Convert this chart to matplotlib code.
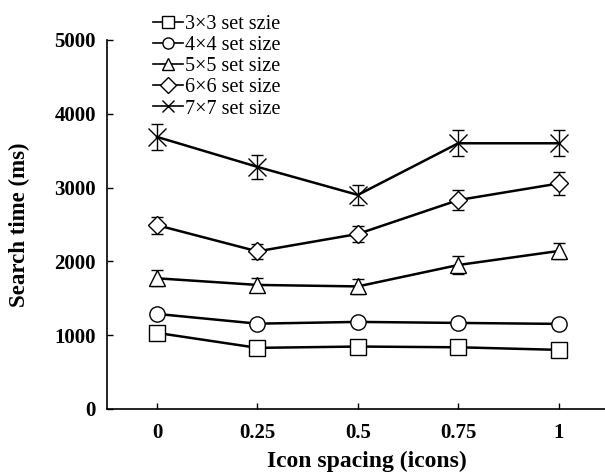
import matplotlib
matplotlib.use("Agg")
import matplotlib.pyplot as plt

plt.rcParams['font.family'] = ['Liberation Serif', 'DejaVu Serif']

spacing = [0, 0.25, 0.5, 0.75, 1]
tick_labels = ["0", "0.25", "0.5", "0.75", "1"]

labels = ["3×3 set szie", "4×4 set size", "5×5 set size", "6×6 set size", "7×7 set size"]
markers = ["s", "o", "^", "D", "x"]

# mean search times (ms)
t3 = [1030, 827, 845, 835, 800]
t4 = [1287, 1155, 1179, 1165, 1152]
t5 = [1770, 1680, 1660, 1950, 2140]
t6 = [2490, 2135, 2371, 2830, 3055]
t7 = [3686, 3280, 2900, 3600, 3600]

# error bars (ms)
e3 = [40, 40, 40, 40, 40]
e4 = [40, 40, 40, 40, 40]
e5 = [110, 100, 100, 125, 110]
e6 = [115, 100, 110, 130, 150]
e7 = [175, 165, 130, 175, 175]

means = [t3, t4, t5, t6, t7]
errs = [e3, e4, e5, e6, e7]

fig = plt.figure(figsize=(6.05, 4.76), dpi=100)
ax = fig.add_axes([0.177, 0.141, 0.823, 0.775])

for m, e, mk, lab in zip(means, errs, markers, labels):
    ms = 13 if mk == "x" else (9 if mk == "D" else 11)
    ax.errorbar(spacing, m, yerr=e, color="black", lw=1.8, marker=mk,
                markersize=ms, markerfacecolor="white", markeredgecolor="black",
                markeredgewidth=1.0, ecolor="black", elinewidth=1.0,
                capsize=4, capthick=1.0, label=lab)

ax.set_xlim(-0.1245, 1.1155)
ax.set_ylim(0, 5000)
ax.set_xticks(spacing)
ax.set_xticklabels(tick_labels)
ax.set_yticks([0, 1000, 2000, 3000, 4000, 5000])
ax.tick_params(direction="in", length=4, width=1, labelsize=15)
ax.tick_params(axis="x", pad=10)
ax.tick_params(axis="y", pad=8)
for t in ax.get_xticklabels() + ax.get_yticklabels():
    t.set_fontweight("bold")
ax.spines["top"].set_visible(False)
ax.spines["right"].set_visible(False)
for s in ["left", "bottom"]:
    ax.spines[s].set_linewidth(1.2)

ax.set_xlabel("Icon spacing (icons)", fontsize=17, fontweight="bold")
ax.set_ylabel("Search time (ms)", fontsize=16.5, fontweight="bold")
ax.xaxis.set_label_coords(0.522, -0.113)
ax.yaxis.set_label_coords(-0.155, 0.5)

handles, labs = ax.get_legend_handles_labels()
handles = [h[0] for h in handles]
leg = ax.legend(handles, labs, loc="upper left", frameon=False, fontsize=14.5,
                handlelength=1.5, handletextpad=0.1, labelspacing=0.1,
                borderaxespad=0, borderpad=0)
leg.set_bbox_to_anchor((0.253, 1.0 - 15 / 476), transform=fig.transFigure)
for lh in leg.legend_handles:
    lh.set_markersize(8)
    lh.set_linewidth(1.2)

fig.savefig("out.png", dpi=100)
